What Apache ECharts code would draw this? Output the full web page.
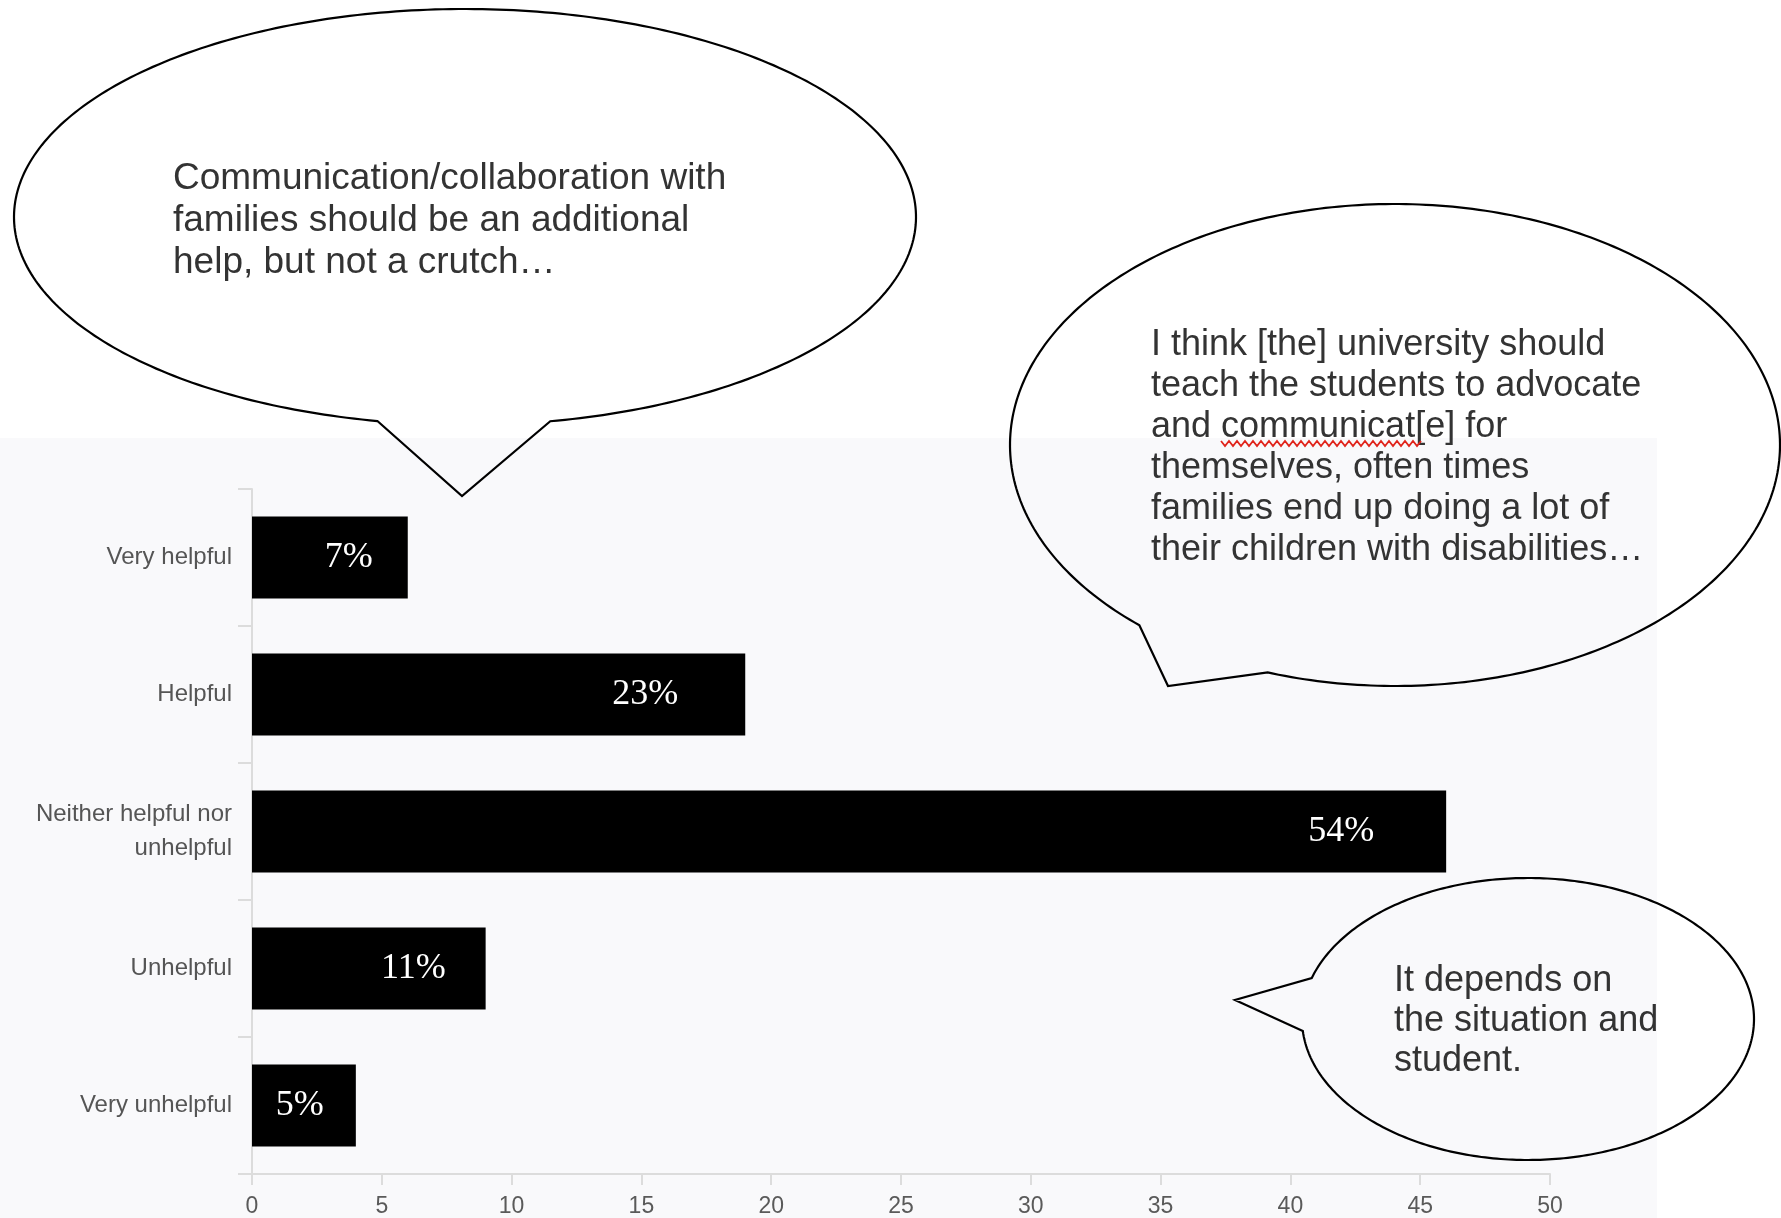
<!DOCTYPE html>
<html>
<head>
<meta charset="utf-8">
<title>Family communication chart</title>
<script src="https://cdn.jsdelivr.net/npm/echarts@6/dist/echarts.min.js"></script>
<style>
  html, body { margin: 0; padding: 0; background: #fff; }
  #chart { width: 1781px; height: 1218px; }
</style>
</head>
<body>
<div id="chart"></div>
<script>
const categories = ['Very helpful', 'Helpful', 'Neither helpful nor\nunhelpful', 'Unhelpful', 'Very unhelpful'];
const counts = [6, 19, 46, 9, 4];
const percentLabels = ['7%', '23%', '54%', '11%', '5%'];
const xMin = 0, xMax = 50, xStep = 5;
const quotes = [
  'Communication/collaboration with\nfamilies should be an additional\nhelp, but not a crutch…',
  'I think [the] university should\nteach the students to advocate\nand communicat[e] for\nthemselves, often times\nfamilies end up doing a lot of\ntheir children with disabilities…',
  'It depends on\nthe situation and\nstudent.'
];

// gap between bar end and its % label (px)
const labelGap = [35, 67, 72, 40, 32];

const sans = '"Liberation Sans", Arial, Helvetica, sans-serif';
const chart = echarts.init(document.getElementById('chart'));

// speech bubble: ellipse arc from a1 to a2 (degrees), then out to the tail tip
function bubble(cx, cy, rx, ry, a1, a2, tip) {
  const pts = [];
  for (let a = a1; a < a2; a += 1) {
    const r = a * Math.PI / 180;
    pts.push([cx + rx * Math.cos(r), cy + ry * Math.sin(r)]);
  }
  const r2 = a2 * Math.PI / 180;
  pts.push([cx + rx * Math.cos(r2), cy + ry * Math.sin(r2)]);
  pts.push(tip);
  return {
    type: 'polygon',
    z: 100,
    shape: { points: pts },
    style: { fill: 'none', stroke: '#000', lineWidth: 2.2 }
  };
}

function quoteText(text, x, y, size, lh) {
  return {
    type: 'text',
    z: 101,
    x: x,
    y: y,
    style: {
      text: text,
      font: size + 'px ' + sans,
      fill: '#333',
      lineHeight: lh,
      align: 'left',
      verticalAlign: 'top'
    }
  };
}

// red spell-check squiggle under "communicat"
const squiggle = [];
for (let x = 1221, k = 0; x <= 1421; x += 4, k++) {
  squiggle.push([x, k % 2 ? 446 : 441]);
}

chart.setOption({
  backgroundColor: '#fff',
  animation: false,
  grid: {
    left: 252,
    right: 231,
    top: 489,
    bottom: 44,
    outerBoundsMode: 'none'
  },
  xAxis: {
    type: 'value',
    min: xMin,
    max: xMax,
    interval: xStep,
    splitLine: { show: false },
    axisLine: { show: true, lineStyle: { color: '#dcdcdc', width: 2 } },
    axisTick: { show: true, length: 11, lineStyle: { color: '#dcdcdc', width: 2 } },
    axisLabel: { color: '#5a5a5a', fontSize: 23, margin: 21, fontFamily: sans }
  },
  yAxis: {
    type: 'category',
    inverse: true,
    data: categories,
    axisLine: { show: true, lineStyle: { color: '#dcdcdc', width: 2 } },
    axisTick: { show: true, length: 14, lineStyle: { color: '#dcdcdc', width: 2 } },
    axisLabel: { color: '#555', fontSize: 24, margin: 20, lineHeight: 34, fontFamily: sans }
  },
  series: [{
    type: 'bar',
    data: counts.map((v, i) => ({ value: v, label: { distance: labelGap[i] } })),
    barCategoryGap: '40%',
    itemStyle: { color: '#000' },
    label: {
      show: true,
      position: 'insideRight',
      formatter: p => percentLabels[p.dataIndex],
      color: '#fff',
      textBorderWidth: 0,
      fontFamily: '"Liberation Serif", "Times New Roman", serif',
      fontSize: 36
    }
  }],
  graphic: [
    {
      type: 'rect',
      z: -10,
      shape: { x: 0, y: 438, width: 1657, height: 780 },
      style: { fill: '#f9f9fb' }
    },
    bubble(465, 217, 451, 208, 101.2, 439.1, [462, 496]),
    bubble(1395, 445, 385, 241, 131.6, 469.3, [1168, 686]),
    bubble(1528, 1019, 226, 141, 196.9, 535.1, [1235, 1000]),
    quoteText(quotes[0], 173, 158, 37, 42),
    quoteText(quotes[1], 1151, 325, 36, 41),
    quoteText(quotes[2], 1394, 961, 36, 40),
    {
      type: 'polyline',
      z: 102,
      shape: { points: squiggle },
      style: { stroke: '#e0241b', lineWidth: 1.8, fill: 'none' }
    }
  ]
});
</script>
</body>
</html>
